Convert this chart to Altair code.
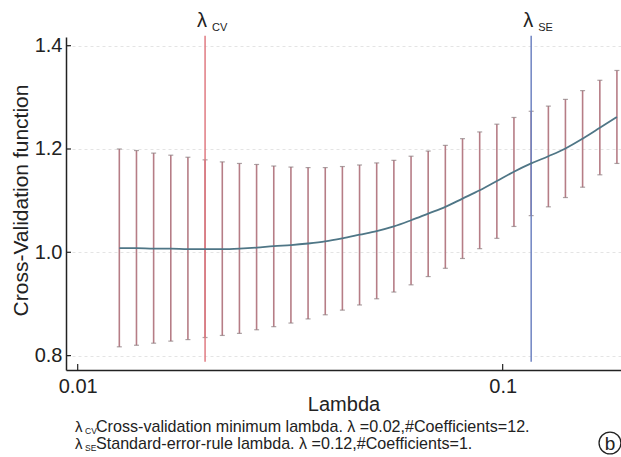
import altair as alt
import pandas as pd

# ---- data ----
lambdas = [0.01253, 0.01375, 0.01509, 0.01656, 0.01817, 0.01994, 0.02189, 0.02402,
           0.02636, 0.02893, 0.03175, 0.03484, 0.03824, 0.04196, 0.04605, 0.05053,
           0.05546, 0.06087, 0.06679, 0.07330, 0.08045, 0.08829, 0.09690, 0.1063,
           0.1167, 0.1281, 0.1405, 0.1542, 0.1693, 0.1857]
cv_upper = [1.200, 1.197, 1.192, 1.188, 1.184, 1.179, 1.175, 1.172, 1.170, 1.167,
            1.165, 1.164, 1.164, 1.166, 1.169, 1.173, 1.178, 1.186, 1.196, 1.207,
            1.220, 1.233, 1.248, 1.261, 1.273, 1.283, 1.296, 1.313, 1.333, 1.352]
cv_lower = [0.817, 0.820, 0.824, 0.828, 0.831, 0.835, 0.839, 0.843, 0.850, 0.856,
            0.863, 0.871, 0.879, 0.888, 0.898, 0.910, 0.923, 0.937, 0.953, 0.969,
            0.988, 1.007, 1.027, 1.050, 1.071, 1.088, 1.106, 1.126, 1.150, 1.172]
cv_mean = [1.008, 1.008, 1.007, 1.007, 1.006, 1.006, 1.006, 1.007, 1.009, 1.012,
           1.014, 1.017, 1.021, 1.027, 1.034, 1.041, 1.050, 1.062, 1.075, 1.088,
           1.104, 1.120, 1.138, 1.156, 1.172, 1.186, 1.201, 1.220, 1.241, 1.262]
lambda_cv = 0.01994
lambda_se = 0.1167
vline_range = [0.788, 1.419]
y_ticks = [0.8, 1.0, 1.2, 1.4]
x_ticks = [0.01, 0.1]
caption_cv = "Cross-validation minimum lambda. λ =0.02,#Coefficients=12."
caption_se = "Standard-error-rule lambda. λ =0.12,#Coefficients=1."

FONT = "Liberation Sans"
TXT = "#222222"

df = pd.DataFrame({"lam": lambdas, "upper": cv_upper, "lower": cv_lower, "mean": cv_mean})
vl = pd.DataFrame({"lam": [lambda_cv, lambda_se], "lo": [vline_range[0]] * 2,
                   "hi": [vline_range[1]] * 2, "which": ["cv", "se"]})
yt = pd.DataFrame({"v": y_ticks})
xt = pd.DataFrame({"v": x_ticks})

xscale = alt.Scale(type="log", domain=[0.009386, 0.18986], nice=False)
yscale = alt.Scale(domain=[0.7721, 1.4168], nice=False, zero=False)

xaxis = alt.Axis(values=x_ticks, labelExpr="datum.value < 0.05 ? '0.01' : '0.1'",
                 grid=False, ticks=False, domainColor=TXT, domainWidth=1.5,
                 labelFont=FONT, labelFontSize=20, labelColor=TXT, labelPadding=6,
                 title="Lambda", titleFont=FONT, titleFontSize=20, titleFontWeight="normal",
                 titleColor=TXT, titleY=40, titleBaseline="alphabetic")
yaxis = alt.Axis(values=y_ticks, format=".1f", grid=True, gridDash=[3, 3],
                 gridColor="#e4e4e4", ticks=False, domainColor=TXT, domainWidth=1.5,
                 labelFont=FONT, labelFontSize=20, labelColor=TXT, labelPadding=4,
                 title="Cross-Validation function", titleFont=FONT, titleFontSize=21,
                 titleFontWeight="normal", titleColor=TXT, titleX=-45, titleY=163,
                 titleBaseline="middle", titleAngle=-90)

X = alt.X("lam:Q", scale=xscale, axis=xaxis)

bars = alt.Chart(df).mark_rule(color="#b67d86", strokeWidth=1.6).encode(
    x=X, y=alt.Y("lower:Q", scale=yscale, axis=yaxis), y2="upper:Q")
cap_hi = alt.Chart(df).mark_tick(orient="horizontal", size=5, thickness=1.2, color="#8a7a7d").encode(
    x=X, y=alt.Y("upper:Q", scale=yscale, axis=yaxis))
cap_lo = alt.Chart(df).mark_tick(orient="horizontal", size=5, thickness=1.2, color="#8a7a7d").encode(
    x=X, y=alt.Y("lower:Q", scale=yscale, axis=yaxis))
vlines = alt.Chart(vl).mark_rule(strokeWidth=1.5).encode(
    x=X, y=alt.Y("lo:Q", scale=yscale, axis=yaxis), y2="hi:Q",
    color=alt.Color("which:N", scale=alt.Scale(domain=["cv", "se"], range=["#e07b82", "#6f83c2"]),
                    legend=None))
mean_line = alt.Chart(df).mark_line(color="#4f7686", strokeWidth=1.8, interpolate="monotone").encode(
    x=X, y=alt.Y("mean:Q", scale=yscale, axis=yaxis))

ytick_marks = alt.Chart(yt).mark_rule(color=TXT, strokeWidth=1.2).encode(
    y=alt.Y("v:Q", scale=yscale, axis=yaxis), x=alt.value(0), x2=alt.value(5))
xtick_marks = alt.Chart(xt).mark_rule(color=TXT, strokeWidth=1.2).encode(
    x=alt.X("v:Q", scale=xscale, axis=xaxis), y=alt.value(333), y2=alt.value(327))

lab_df = pd.DataFrame({"lam": [lambda_cv, lambda_se], "sub": ["CV", "SE"], "lam_sym": ["λ", "λ"]})
lam_sym = alt.Chart(lab_df).mark_text(font=FONT, fontSize=20, color=TXT, align="center",
                                      baseline="alphabetic", dx=-3).encode(
    x=X, y=alt.value(-10), text="lam_sym:N")
lam_sub = alt.Chart(lab_df).mark_text(font=FONT, fontSize=11, color=TXT, align="left",
                                      baseline="alphabetic", dx=7).encode(
    x=X, y=alt.value(-6), text="sub:N")


def txt(s, x, y, size, align="left", baseline="alphabetic"):
    return alt.Chart(pd.DataFrame({"t": [s]})).mark_text(
        font=FONT, fontSize=size, color=TXT, align=align, baseline=baseline).encode(
        x=alt.value(x), y=alt.value(y), text="t:N")


cap1 = txt("λ", 9, 395, 15) + txt("CV", 19, 397, 8.5) + txt(caption_cv, 30, 395, 16.1)
cap2 = txt("λ", 9, 412, 15) + txt("SE", 19, 414, 8.5) + txt(caption_se, 30, 412, 16.1)

circ = alt.Chart(pd.DataFrame({"t": ["b"]})).mark_point(
    shape="circle", size=480, filled=False, stroke=TXT, strokeWidth=1.3, opacity=1).encode(
    x=alt.value(544), y=alt.value(406))
circ_b = txt("b", 544, 407, 19, align="center", baseline="middle")

chart = alt.layer(bars, cap_hi, cap_lo, vlines, mean_line, ytick_marks, xtick_marks,
                  lam_sym, lam_sub, cap1, cap2, circ, circ_b).properties(
    width=555, height=333,
    autosize=alt.AutoSizeParams(type="none"),
    padding={"left": 66, "top": 37, "right": 0, "bottom": 87},
    background="white",
).configure_view(stroke=None)

chart.save("out.html", embed_options={"renderer": "svg", "actions": False})
